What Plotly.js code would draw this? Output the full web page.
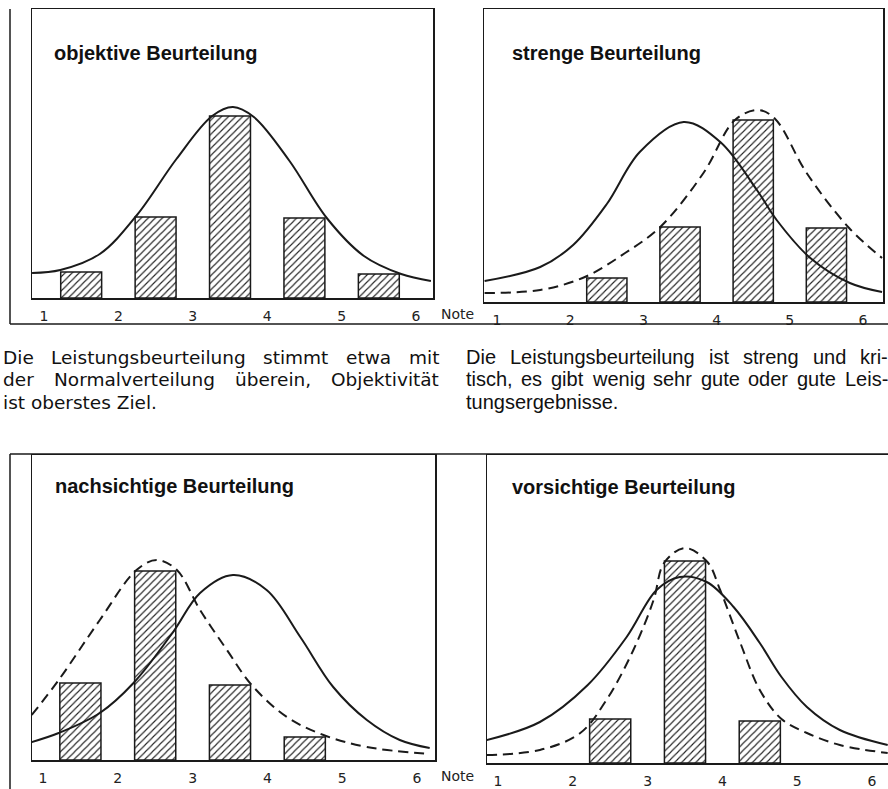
<!DOCTYPE html>
<html><head><meta charset="utf-8">
<script src="https://cdn.plot.ly/plotly-3.0.1.min.js"></script>
<style>html,body{margin:0;padding:0;background:#fff}#chart{width:888px;height:789px}</style>
</head><body><div id="chart"></div>
<script>
// ---------- data ----------
const notes = [1, 2, 3, 4, 5, 6];
const noteLabels = ['1', '2', '3', '4', '5', '6'];
const noteWord = 'Note';

const panelTitles = ['objektive Beurteilung', 'strenge Beurteilung', 'nachsichtige Beurteilung', 'vorsichtige Beurteilung'];

const captionLeft = ['Die Leistungsbeurteilung stimmt etwa mit', 'der Normalverteilung überein, Objektivität', 'ist oberstes Ziel.'];
const captionRight = ['Die Leistungsbeurteilung ist streng und kri-', 'tisch, es gibt wenig sehr gute oder gute Leis-', 'tungsergebnisse.'];

// objektive Beurteilung
const objBarX = [1.5, 2.5, 3.5, 4.5, 5.5];
const objBarH = [26, 81, 182, 80, 24];
const objCurveX = [0.84, 1.22, 1.75, 2.25, 2.78, 3.26, 3.54, 3.82, 4.30, 4.80, 5.30, 5.80, 6.20];
const objCurveY = [25, 28, 44, 83, 139, 182, 191, 181, 137, 80, 42, 24, 17];

// strenge Beurteilung
const strBarX = [2.5, 3.5, 4.5, 5.5];
const strBarH = [24, 75, 182, 74];
const strSolidX = [0.83, 1.59, 2.04, 2.50, 2.95, 3.55, 4.05, 4.55, 4.82, 5.28, 5.82, 6.26];
const strSolidY = [21, 35, 57, 98, 150, 180, 160, 112, 82, 44, 19, 10];
const strDashX = [0.83, 1.59, 2.20, 2.75, 3.23, 3.82, 4.25, 4.57, 4.80, 5.23, 5.81, 6.26];
const strDashY = [9, 12, 25, 49, 75, 129, 182, 192, 183, 129, 74, 44];

// nachsichtige Beurteilung
const lenBarX = [1.5, 2.5, 3.5, 4.5];
const lenBarH = [77, 189, 75, 23];
const lenSolidX = [0.85, 1.21, 1.76, 2.21, 2.74, 3.10, 3.54, 3.99, 4.44, 4.88, 5.33, 5.77, 6.17];
const lenSolidY = [18, 27, 47, 77, 128, 167, 185, 170, 123, 73, 40, 20, 12];
const lenDashX = [0.85, 1.21, 1.76, 2.25, 2.52, 2.79, 3.10, 3.46, 3.79, 4.26, 4.75, 5.33, 6.17];
const lenDashY = [45, 80, 140, 190, 200, 190, 150, 110, 75, 43, 25, 13, 6];

// vorsichtige Beurteilung
const cauBarX = [2.5, 3.5, 4.5];
const cauBarH = [44, 202, 42];
const cauSolidX = [0.85, 1.56, 2.20, 2.72, 3.12, 3.43, 3.79, 4.15, 4.50, 4.79, 5.13, 5.57, 6.21];
const cauSolidY = [23, 41, 78, 126, 173, 186, 181, 156, 120, 86, 56, 33, 18];
const cauDashX = [0.85, 1.56, 2.10, 2.45, 2.81, 3.08, 3.22, 3.50, 3.80, 3.97, 4.24, 4.50, 4.79, 5.13, 5.57, 6.21];
const cauDashY = [8, 13, 30, 63, 113, 163, 200, 215, 201, 173, 120, 73, 44, 30, 18, 10];

// ---------- styling / layout ----------
const W = 888, H = 789;
const px = v => v / W;
const py = v => 1 - v / H;
const INK = '#1a1a1a';

function barTrace(x, y, xa, ya) {
  return {type: 'bar', x: x, y: y, xaxis: xa, yaxis: ya, width: 0.55,
    marker: {color: '#fff', line: {color: INK, width: 1.5},
      pattern: {shape: '/', size: 5, solidity: 0.22, fgcolor: '#222', bgcolor: '#fff'}},
    hoverinfo: 'skip'};
}
function lineTrace(x, y, xa, ya, dashed) {
  return {type: 'scatter', mode: 'lines', x: x, y: y, xaxis: xa, yaxis: ya,
    line: {color: INK, width: 2, shape: 'spline', smoothing: 1, dash: dashed ? '10px,6px' : 'solid'},
    hoverinfo: 'skip'};
}

const data = [
  barTrace(objBarX, objBarH, 'x', 'y'),
  lineTrace(objCurveX, objCurveY, 'x', 'y', false),
  barTrace(strBarX, strBarH, 'x2', 'y2'),
  lineTrace(strSolidX, strSolidY, 'x2', 'y2', false),
  lineTrace(strDashX, strDashY, 'x2', 'y2', true),
  barTrace(lenBarX, lenBarH, 'x3', 'y3'),
  lineTrace(lenSolidX, lenSolidY, 'x3', 'y3', false),
  lineTrace(lenDashX, lenDashY, 'x3', 'y3', true),
  barTrace(cauBarX, cauBarH, 'x4', 'y4'),
  lineTrace(cauSolidX, cauSolidY, 'x4', 'y4', false),
  lineTrace(cauDashX, cauDashY, 'x4', 'y4', true)
];

function xax(l, r, range, anchor, extra) {
  return Object.assign({domain: [px(l), px(r)], range: range, anchor: anchor,
    showgrid: false, zeroline: false, showline: true, mirror: true, linecolor: INK, linewidth: 1.5,
    tickmode: 'array', tickvals: notes, ticktext: noteLabels, ticks: 'outside', ticklen: 5,
    tickcolor: 'rgba(0,0,0,0)', tickfont: {family: 'DejaVu Sans', size: 14, color: '#222'},
    fixedrange: true}, extra || {});
}
function yax(t, b, top, anchor, extra) {
  return Object.assign({domain: [py(b), py(t)], range: [0, top], anchor: anchor,
    showgrid: false, zeroline: false, showline: true, mirror: true, linecolor: INK, linewidth: 1.5,
    showticklabels: false, ticks: '', fixedrange: true}, extra || {});
}

const annotations = [];
function addText(text, x, y, size, bold, family) {
  annotations.push({xref: 'paper', yref: 'paper', x: px(x), y: py(y), text: bold ? '<b>' + text + '</b>' : text,
    showarrow: false, xanchor: 'left', yanchor: 'middle',
    font: {family: family || 'Liberation Sans, Arial, sans-serif', size: size, color: '#111'}, borderpad: 0});
}
addText(panelTitles[0], 53, 53, 20, true);
addText(panelTitles[1], 511, 53, 20, true);
addText(panelTitles[2], 54, 486, 20, true);
addText(panelTitles[3], 511, 487, 20, true);

annotations.push({xref: 'paper', yref: 'paper', x: px(457), y: py(314), text: noteWord, showarrow: false,
  xanchor: 'center', yanchor: 'middle', font: {family: 'DejaVu Sans', size: 14, color: '#222'}});
annotations.push({xref: 'paper', yref: 'paper', x: px(457), y: py(776), text: noteWord, showarrow: false,
  xanchor: 'center', yanchor: 'middle', font: {family: 'DejaVu Sans', size: 14, color: '#222'}});

// justified caption lines (word positions measured with canvas)
const cv = document.createElement('canvas').getContext('2d');
function addCaption(lines, left, right, yc, family, size) {
  cv.font = size + 'px "' + family + '"';
  lines.forEach((ln, i) => {
    const y = yc[i];
    if (i === lines.length - 1) { addText(ln, left, y, size, false, family); return; }
    const words = ln.split(' ');
    const widths = words.map(w => cv.measureText(w).width);
    const total = widths.reduce((a, b) => a + b, 0);
    const gap = (right - left - total) / (words.length - 1);
    let xpos = left;
    words.forEach((w, k) => { addText(w, xpos, y, size, false, family); xpos += widths[k] + gap; });
  });
}
addCaption(captionLeft, 2, 438, [357, 379.5, 402], 'DejaVu Sans', 18.5);
addCaption(captionRight, 465, 887, [357, 379.5, 402], 'Liberation Sans', 20);

const frame = {type: 'line', xref: 'paper', yref: 'paper', line: {color: INK, width: 1.5}};
const shapes = [
  Object.assign({}, frame, {x0: px(10), x1: px(10), y0: py(9), y1: py(324)}),
  Object.assign({}, frame, {x0: px(10), x1: px(888), y0: py(324), y1: py(324)}),
  Object.assign({}, frame, {x0: px(10), x1: px(10), y0: py(454), y1: py(789)}),
  Object.assign({}, frame, {x0: px(10), x1: px(888), y0: py(454), y1: py(454)})
];

const layout = {
  width: W, height: H, margin: {l: 0, r: 0, t: 0, b: 0, pad: 0},
  paper_bgcolor: '#fff', plot_bgcolor: '#fff', showlegend: false, barmode: 'overlay',
  xaxis: xax(32, 433, [0.839, 6.228], 'y'),
  yaxis: yax(9, 298, 289, 'x'),
  xaxis2: xax(484, 883, [0.822, 6.273], 'y2'),
  yaxis2: yax(9, 302, 293, 'x2'),
  xaxis3: xax(32, 435, [0.853, 6.241], 'y3'),
  yaxis3: yax(455, 760, 305, 'x3'),
  xaxis4: xax(487, 888, [0.853, 6.214], 'y4'),
  yaxis4: yax(455, 763, 308, 'x4', {mirror: false}),
  annotations: annotations,
  shapes: shapes
};

Plotly.newPlot('chart', data, layout, {staticPlot: true, displayModeBar: false});
</script></body></html>
